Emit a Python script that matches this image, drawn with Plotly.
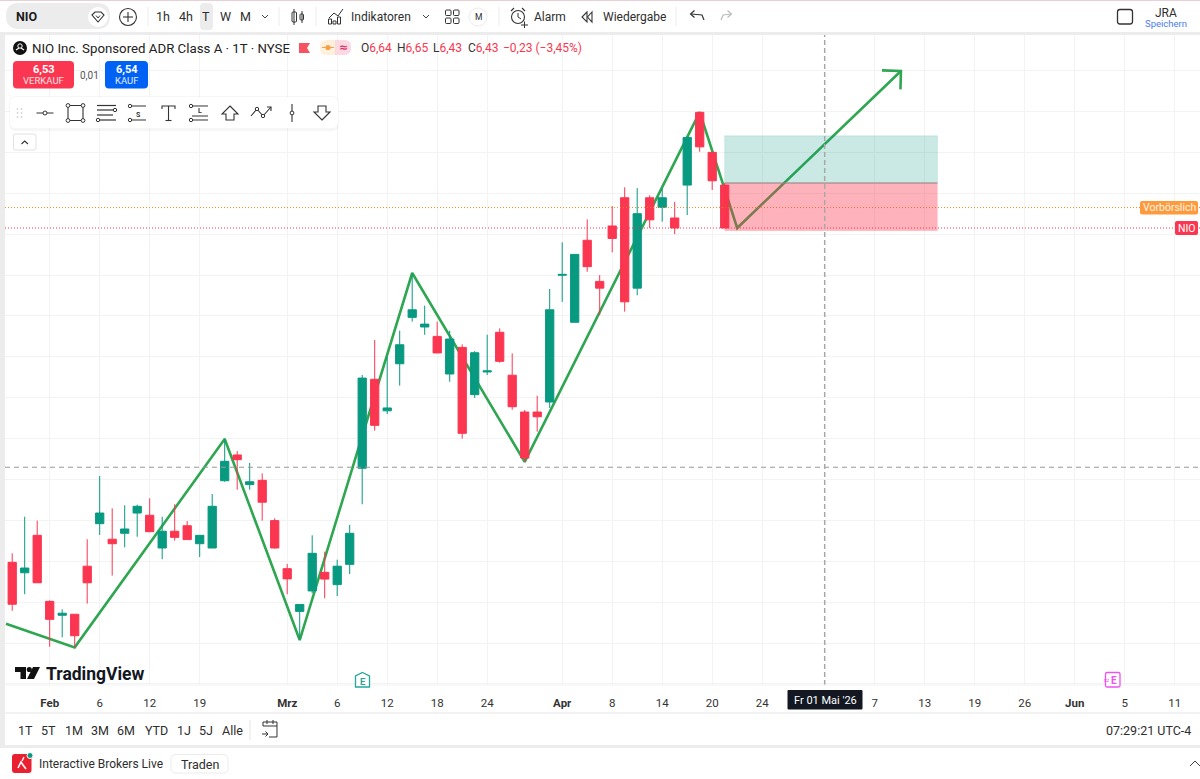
import plotly.graph_objects as go

W, H = 1200, 779
FONT = "Roboto"

# --- chart data ---
bar_index = list(range(58))
open_ = [4.795,4.744,4.927,4.604,4.536,4.541,4.776,4.984,4.908,4.937,5.036,5.025,4.865,4.947,4.974,4.886,4.865,5.194,5.320,5.175,5.196,4.999,4.764,4.555,4.655,4.746,4.686,4.785,5.255,5.690,5.536,5.766,5.993,5.946,5.900,5.716,5.846,5.615,5.726,5.920,5.710,5.530,5.530,5.579,6.199,5.969,6.370,6.169,6.440,6.578,6.136,6.578,6.531,6.479,6.640,6.996,6.800,6.640]
high = [4.839,5.018,4.999,4.609,4.565,4.541,4.908,5.217,5.059,5.074,5.077,5.108,5.018,5.079,4.997,4.927,5.129,5.401,5.339,5.281,5.230,5.010,4.787,4.589,4.927,4.847,4.808,4.978,5.711,5.882,5.800,5.928,6.208,6.050,5.972,5.928,5.861,5.828,5.908,5.939,5.817,5.540,5.610,6.132,6.360,6.301,6.472,6.200,6.537,6.629,6.625,6.590,6.624,6.558,6.873,6.997,6.801,6.650]
low = [4.558,4.639,4.695,4.382,4.428,4.378,4.593,4.929,4.730,4.868,4.920,4.942,4.810,4.901,4.906,4.821,4.865,5.189,5.150,5.150,4.999,4.862,4.639,4.419,4.644,4.619,4.630,4.738,5.079,5.439,5.520,5.659,5.972,5.908,5.819,5.678,5.400,5.599,5.711,5.771,5.541,5.286,5.434,5.550,6.069,5.969,6.216,6.004,6.311,6.021,6.101,6.430,6.461,6.400,6.493,6.803,6.616,6.430]
close = [4.590,4.767,4.695,4.516,4.546,4.436,4.695,5.036,4.886,4.958,5.069,4.945,4.947,4.917,4.906,4.927,5.069,5.289,5.297,5.189,5.089,4.865,4.714,4.589,4.839,4.713,4.776,4.937,5.696,5.465,5.550,5.859,6.030,5.960,5.819,5.887,5.426,5.820,5.731,5.778,5.556,5.305,5.507,6.030,6.203,6.301,6.241,6.136,6.379,6.069,6.500,6.470,6.578,6.430,6.873,6.827,6.661,6.430]

tick_index = [3,7,11,15,22,26,30,34,38,44,48,52,56,60,69,73,77,81,85,89,93]
tick_text = ["<b>Feb</b>","6","12","19","<b>Mrz</b>","6","12","18","24","<b>Apr</b>","8","14","20","24","7","13","19","26","<b>Jun</b>","5","11"]
price_grid = [4.2,4.4,4.6,4.8,5.0,5.2,5.4,5.6,5.8,6.0,6.2,6.4,6.6,6.8,7.0,7.2]

zigzag_index = [-0.5,5,17,23,32,41,55,58,71.1]
zigzag_price = [4.495,4.379,5.398,4.415,6.210,5.286,6.997,6.430,7.198]
arrow_index = [69.58,71.1,71.06]
arrow_price = [7.201,7.198,7.108]

box_index = [57,74.02]
box_target, box_entry, box_stop = 6.881,6.650,6.417
last_price, premarket_price = 6.43,6.53
cross_index, cross_price = 65,5.26
x_range = [-0.576,95.024]
y_range = [4.195,7.374]

GREEN, RED = "#089981", "#FB3650"
INK = "#2e2e2e"

# --- pixel helpers for the surrounding chrome ---
shapes, notes = [], []
X = lambda x: x / W
Y = lambda y: 1 - y / H

def poly(pts, color=INK, w=1.2, fill=None, close=False):
    d = "M" + " L".join(f"{X(a):.5f},{Y(b):.5f}" for a, b in pts) + (" Z" if close else "")
    shapes.append(dict(type="path", xref="paper", yref="paper", path=d,
                       line=dict(color=color, width=w) if w else dict(width=0),
                       fillcolor=fill or "rgba(0,0,0,0)"))

def rrect(x0, y0, x1, y1, r=0, fill=None, color=None, w=0):
    if r == 0:
        d = f"M{X(x0)},{Y(y0)} L{X(x1)},{Y(y0)} L{X(x1)},{Y(y1)} L{X(x0)},{Y(y1)} Z"
    else:
        d = (f"M{X(x0+r)},{Y(y0)} L{X(x1-r)},{Y(y0)} Q{X(x1)},{Y(y0)} {X(x1)},{Y(y0+r)} "
             f"L{X(x1)},{Y(y1-r)} Q{X(x1)},{Y(y1)} {X(x1-r)},{Y(y1)} L{X(x0+r)},{Y(y1)} "
             f"Q{X(x0)},{Y(y1)} {X(x0)},{Y(y1-r)} L{X(x0)},{Y(y0+r)} Q{X(x0)},{Y(y0)} {X(x0+r)},{Y(y0)} Z")
    shapes.append(dict(type="path", xref="paper", yref="paper", path=d,
                       line=dict(color=color, width=w) if w else dict(width=0),
                       fillcolor=fill or "rgba(0,0,0,0)"))

def circ(cx, cy, r, fill=None, color=None, w=0):
    shapes.append(dict(type="circle", xref="paper", yref="paper",
                       x0=X(cx-r), x1=X(cx+r), y0=Y(cy+r), y1=Y(cy-r),
                       line=dict(color=color, width=w) if w else dict(width=0),
                       fillcolor=fill or "rgba(0,0,0,0)"))

def text(x, y, s, size=12, color=INK, anchor="center", bold=False, family=FONT):
    notes.append(dict(xref="paper", yref="paper", x=X(x), y=Y(y), text=f"<b>{s}</b>" if bold else s,
                      showarrow=False, xanchor=anchor, yanchor="middle",
                      font=dict(family=family, size=size, color=color), borderpad=0))

# --- chart overlays in data coordinates ---
def dshape(**kw):
    shapes.append(dict(xref="x", yref="y", **kw))

dshape(type="line", x0=x_range[0], x1=x_range[1], y0=premarket_price, y1=premarket_price,
       line=dict(color="#F58A1F", width=1, dash="1px,2px"))
dshape(type="rect", x0=box_index[0], x1=box_index[1], y0=box_entry, y1=box_target,
       fillcolor="rgba(8,153,129,0.21)", line=dict(color="rgba(8,153,129,0.12)", width=1))
dshape(type="rect", x0=box_index[0], x1=box_index[1], y0=box_stop, y1=box_entry,
       fillcolor="rgba(251,50,72,0.37)", line=dict(color="rgba(251,50,72,0.05)", width=1))
dshape(type="line", x0=box_index[0], x1=box_index[1], y0=box_entry, y1=box_entry,
       line=dict(color="#9C8585", width=1))
dshape(type="line", x0=x_range[0], x1=x_range[1], y0=last_price, y1=last_price,
       line=dict(color="#FB3650", width=1, dash="1px,2px"))
dshape(type="line", x0=x_range[0], x1=x_range[1], y0=cross_price, y1=cross_price,
       line=dict(color="#9a9a9a", width=1, dash="5px,4px"))
dshape(type="line", x0=cross_index, x1=cross_index, y0=y_range[0], y1=y_range[1],
       line=dict(color="#a8a8a8", width=1.5, dash="5px,3px"))

# --- panels ---
rrect(0, 0, 1200, 32, fill="#ffffff")
rrect(0, 0, 1200, 1, fill="#e8cfd3")
rrect(0, 32, 1200, 35, fill="#ececec")
rrect(0, 35, 5, 748, fill="#ececec")
poly([(5, 685), (1200, 685)], "#f2f2f2", 1)
poly([(5, 713), (1200, 713)], "#e4e4e4", 1)
rrect(0, 745, 1200, 748, fill="#ececec")
rrect(0, 748, 1200, 779, fill="#ffffff")

# --- top toolbar ---
rrect(6, 3, 110, 29, 13, fill="#ececec")
text(15, 17, "NIO", 12.5, "#1c1c1c", "left", True)
circ(98, 17, 10, fill="#ffffff")
poly([(92, 15), (95, 12), (101, 12), (104, 15), (98, 22)], "#333", 1.1, close=True)
poly([(96, 15.5), (98, 18), (100, 15.5)], "#333", 1)
circ(128, 17, 8.5, color="#333", w=1.1)
poly([(123, 17), (133, 17)], "#333", 1.1)
poly([(128, 12), (128, 22)], "#333", 1.1)
for sx in (148, 279, 316, 499, 676):
    poly([(sx, 7), (sx, 26)], "#ececec", 1)
rrect(200, 3, 213, 30, 4, fill="#ececec")
for tx, s in [(163, "1h"), (186, "4h"), (206, "T"), (225, "W"), (245, "M")]:
    text(tx, 17, s, 12.5)
poly([(262, 15), (265, 18), (268, 15)], "#444", 1)
poly([(294, 9), (294, 25)], "#333", 1)
rrect(292, 12, 296.5, 22, 1, color="#333", w=1)
poly([(302, 11), (302, 23)], "#333", 1)
rrect(300, 14, 303.5, 20, 1, color="#333", w=1)
poly([(329, 18), (334, 13), (338, 16), (343, 9)], "#333", 1)
for bx, by in [(330, 19), (334.5, 21), (339, 17)]:
    rrect(bx - 1.5, by, bx + 1.5, 24, color="#333", w=1)
text(350, 17, "Indikatoren", 12, INK, "left")
poly([(423, 15), (426, 18), (429, 15)], "#444", 1)
for sx0, sy0 in [(445.5, 10), (453.5, 10), (445.5, 18), (453.5, 18)]:
    rrect(sx0, sy0, sx0 + 5.5, sy0 + 5.5, 1, color="#333", w=1)
circ(478, 17, 9, color="#ececec", w=1)
text(478, 17.5, "M", 8.5)
circ(518, 17, 6.5, color="#333", w=1.1)
poly([(518, 13), (518, 17), (521, 19)], "#333", 1)
poly([(511, 11), (514, 8)], "#333", 1.1)
poly([(522, 8), (525, 11)], "#333", 1.1)
poly([(521, 25), (528, 25)], "#333", 1)
poly([(524.5, 21.5), (524.5, 28)], "#333", 1)
text(533, 17, "Alarm", 12, INK, "left")
poly([(587, 12), (582, 17), (587, 22)], "#333", 1.1, close=True)
poly([(592, 12), (587.5, 17), (592, 22)], "#333", 1.1, close=True)
text(602, 17, "Wiedergabe", 12, INK, "left")
poly([(704, 20), (702, 15), (691, 14)], "#333", 1.2)
poly([(694.5, 10.5), (690.5, 14), (694.5, 17.5)], "#333", 1.2)
poly([(721, 20), (723, 15), (731, 14)], "#bbb", 1.2)
poly([(727.5, 10.5), (731.5, 14), (727.5, 17.5)], "#bbb", 1.2)
rrect(1117.5, 9.5, 1132.5, 24, 2.5, color="#333", w=1.3)
text(1166, 13, "JRA", 12)
text(1166, 24, "Speichern", 9.5, "#4a7df0")

# --- symbol header ---
circ(20, 48, 7, fill="#111111")
circ(20, 46, 2.2, color="#ffffff", w=1)
poly([(16, 50), (19, 48)], "#ffffff", 1.2)
poly([(24, 50), (21, 48)], "#ffffff", 1.2)
text(31, 48, "NIO Inc. Sponsored ADR Class A · 1T · NYSE", 13.25, "#222", "left")
poly([(299, 43), (310, 43), (307, 48), (310, 53), (299, 53)], "#F7525F", 0, fill="#F7525F", close=True)
rrect(320, 40, 351, 55, 7, fill="#fff0dc")
rrect(335, 40, 351, 55, 7, fill="#fcd9e2")
rrect(335, 40, 339, 55, fill="#fcd9e2")
circ(328, 47.5, 2.6, fill="#F5A04B")
poly([(322, 47.5), (334, 47.5)], "#F5A04B", 1)
text(343, 47.5, "≈", 11, "#d8386f", bold=True, family="DejaVu Sans")
READ = "#F7374F"
for tx, lab, val in [(359, "O", "6,64"), (395, "H", "6,65"), (431, "L", "6,43"), (466, "C", "6,43")]:
    notes.append(dict(xref="paper", yref="paper", x=X(tx), y=Y(48), showarrow=False, xanchor="left", yanchor="middle",
                      text=f"<span style='color:#333'>{lab}</span>{val}", font=dict(family=FONT, size=12, color=READ)))
text(502, 48, "−0,23 (−3,45%)", 12, READ, "left")

# --- trade buttons ---
rrect(13, 61, 74, 88.5, 4, fill="#FB3650")
text(43.5, 69, "6,53", 11, "#ffffff", bold=True)
text(43.5, 80.5, "VERKAUF", 9.5, "#ffe3e6")
text(89.5, 75, "0,01", 10, "#555")
rrect(105, 61, 148, 88.5, 4, fill="#0062F5")
text(126.5, 69, "6,54", 11, "#ffffff", bold=True)
text(126.5, 80.5, "KAUF", 9.5, "#e3edff")

# --- floating drawing bar ---
rrect(9, 96, 339, 131, 7, fill="rgba(0,0,0,0.035)")
rrect(10, 97, 338, 128, 6, fill="#ffffff")
for gx in (17.5, 21.5):
    for gy in (109, 113, 117):
        circ(gx, gy, 0.9, fill="#d5d5d5")
ICO = "#333"
poly([(36.5, 113), (53.5, 113)], ICO, 1)
circ(45, 113, 2, fill="#fff", color=ICO, w=1)
rrect(68, 105.5, 83, 120.5, color=ICO, w=1.1)
for cx, cy in [(68, 105.5), (83, 105.5), (68, 120.5), (83, 120.5)]:
    circ(cx, cy, 1.9, fill="#fff", color=ICO, w=1)
poly([(97, 105.5), (116, 105.5)], ICO, 1.2)
poly([(97, 110), (113, 110)], ICO, 1.2)
poly([(97, 115), (113, 115)], ICO, 1.2)
poly([(99, 120), (116, 120)], ICO, 1.2)
circ(115, 110, 1.7, fill="#fff", color=ICO, w=1)
circ(98, 120, 1.7, fill="#fff", color=ICO, w=1)
poly([(131, 106), (146, 106)], ICO, 1)
poly([(131, 120), (146, 120)], ICO, 1)
circ(130, 106, 1.7, fill="#fff", color=ICO, w=1)
circ(130, 120, 1.7, fill="#fff", color=ICO, w=1)
text(138, 115, "S", 7, ICO, bold=True)
poly([(162, 109), (162, 106), (175, 106), (175, 109)], ICO, 1.1)
poly([(168.5, 106), (168.5, 120.5)], ICO, 1.1)
poly([(165.5, 120.5), (171.5, 120.5)], ICO, 1.1)
poly([(192, 106), (208, 106)], ICO, 1)
poly([(192, 120), (208, 120)], ICO, 1)
poly([(192, 116), (208, 116)], ICO, 1)
circ(191, 106, 1.7, fill="#fff", color=ICO, w=1)
circ(191, 120, 1.7, fill="#fff", color=ICO, w=1)
text(199.5, 111, "L", 7, ICO, bold=True)
poly([(230, 106), (238, 114), (234, 114), (234, 120), (226, 120), (226, 114), (222, 114)], ICO, 1.1, close=True)
poly([(251, 116), (257, 109), (263, 116), (271, 107)], ICO, 1.1)
poly([(267, 107), (271, 107), (271, 111)], ICO, 1.1)
circ(257, 109, 1.7, fill="#fff", color=ICO, w=1)
circ(263, 116, 1.7, fill="#fff", color=ICO, w=1)
poly([(292, 104), (292, 122)], ICO, 1.1)
circ(292, 113, 1.9, fill="#fff", color=ICO, w=1)
poly([(322, 120), (330, 112), (326, 112), (326, 106), (318, 106), (318, 112), (314, 112)], ICO, 1.1, close=True)
rrect(13.5, 134, 36, 150, 2, fill="#ffffff", color="#e2e2e2", w=1)
poly([(21.5, 144), (24.7, 141), (28, 144)], "#333", 1.1)

# --- right price tags ---
rrect(1140, 201, 1198, 214.5, 2, fill="#FF9A3C")
text(1169, 207.8, "Vorbörslich", 10.5, "#fff6ea")
rrect(1175, 221, 1198, 235, 2, fill="#FB3650")
text(1186.5, 228, "NIO", 10.5, "#ffffff")

# --- watermark ---
poly([(15, 667), (26, 667), (26, 679), (20.5, 679), (20.5, 672), (15, 672)], "#111", 0, fill="#111111", close=True)
circ(29.3, 669.5, 2.6, fill="#111111")
poly([(33, 667), (40, 667), (34, 679), (27, 679)], "#111", 0, fill="#111111", close=True)
text(45, 673.5, "TradingView", 17.5, "#131722", "left", True)

# --- event markers ---
poly([(362.5, 672.5), (369.5, 676), (369.5, 687), (355.5, 687), (355.5, 676)], "#26A69A", 1.3, fill="#ffffff", close=True)
text(362.5, 681, "E", 9.5, "#26A69A", bold=True)
rrect(1105.5, 672.5, 1120, 687, 1.5, fill="#ffffff", color="#F050F0", w=1.3)
text(1114, 680, "E", 10, "#F050F0", bold=True)
text(1106, 680, "≈", 8, "#F050F0", family="DejaVu Sans")

# --- crosshair time label ---
rrect(787.5, 690, 862.5, 709.5, 1, fill="#131722")
text(825, 700, "Fr 01 Mai '26", 11, "#ffffff")

# --- range bar ---
for tx, s in [(25, "1T"), (48, "5T"), (74, "1M"), (100, "3M"), (126, "6M"), (156, "YTD"), (184, "1J"), (206, "5J"), (232, "Alle")]:
    text(tx, 730.5, s, 12.5)
poly([(250, 720), (250, 740)], "#e4e4e4", 1)
poly([(263, 726), (263, 722), (277, 722), (277, 737), (269, 737)], "#333", 1)
poly([(263, 726), (277, 726)], "#333", 1)
poly([(267, 720), (267, 724)], "#333", 1)
poly([(273, 720), (273, 724)], "#333", 1)
poly([(262, 734), (268, 734)], "#333", 1)
poly([(265.5, 731.5), (268, 734), (265.5, 736.5)], "#333", 1)
text(1192, 730, "07:29:21 UTC-4", 12.5, INK, "right")

# --- broker strip ---
rrect(12, 754, 31.5, 773, 3, fill="#E8202F")
poly([(18, 768), (21, 762), (23, 765), (26, 769)], "#ffffff", 1.6)
poly([(22, 761), (24, 757)], "#ffffff", 1.4)
circ(30, 755.5, 3, fill=GREEN, color="#ffffff", w=1)
text(38, 764, "Interactive Brokers Live", 12, INK, "left")
rrect(171, 754.5, 228, 773, 5, fill="#ffffff", color="#ececec", w=1)
text(199.5, 764, "Traden", 12.5)
poly([(1190, 766), (1195, 761), (1200, 766)], "#444", 1)

# --- figure ---
x_domain = [5 / W, 1]
y_domain = [1 - 685 / H, 1 - 35 / H]
fig = go.Figure()
fig.add_trace(go.Scatter(x=zigzag_index, y=zigzag_price, mode="lines", xaxis="x", yaxis="y",
                         line=dict(color="#2FA651", width=2.6), hoverinfo="skip", cliponaxis=True))
fig.add_trace(go.Scatter(x=arrow_index, y=arrow_price, mode="lines", xaxis="x", yaxis="y",
                         line=dict(color="#2FA651", width=2.6), hoverinfo="skip"))
fig.add_trace(go.Candlestick(x=bar_index, open=open_, high=high, low=low, close=close, xaxis="x2", yaxis="y2",
                             increasing=dict(line=dict(color=GREEN, width=1), fillcolor=GREEN),
                             decreasing=dict(line=dict(color=RED, width=1), fillcolor=RED),
                             whiskerwidth=0, hoverinfo="skip"))
fig.update_layout(
    width=W, height=H, margin=dict(l=0, r=0, t=0, b=0), autosize=False,
    paper_bgcolor="#ffffff", plot_bgcolor="#ffffff", showlegend=False, hovermode=False,
    boxgap=0.34, boxgroupgap=0,
    font=dict(family=FONT, color=INK),
    xaxis=dict(domain=x_domain, range=x_range, tickmode="array", tickvals=tick_index, ticktext=tick_text,
               showgrid=True, gridcolor="#f3f3f3", gridwidth=1, zeroline=False, showline=False,
               ticks="outside", ticklen=7, tickcolor="rgba(0,0,0,0)",
               tickfont=dict(family=FONT, size=11.5, color="#333"), anchor="y", rangeslider=dict(visible=False)),
    yaxis=dict(domain=y_domain, range=y_range, tickmode="array", tickvals=price_grid,
               showticklabels=False, showgrid=True, gridcolor="#f3f3f3", gridwidth=1, zeroline=False,
               showline=False, ticks="", anchor="x"),
    xaxis2=dict(overlaying="x", domain=x_domain, range=x_range, visible=False, anchor="y2", rangeslider=dict(visible=False)),
    yaxis2=dict(overlaying="y", domain=y_domain, range=y_range, visible=False, anchor="x2"),
    shapes=shapes, annotations=notes,
)
fig.write_html("out.html", config=dict(displayModeBar=False),
               post_script="document.body.style.margin='0';document.body.style.overflow='hidden';")
